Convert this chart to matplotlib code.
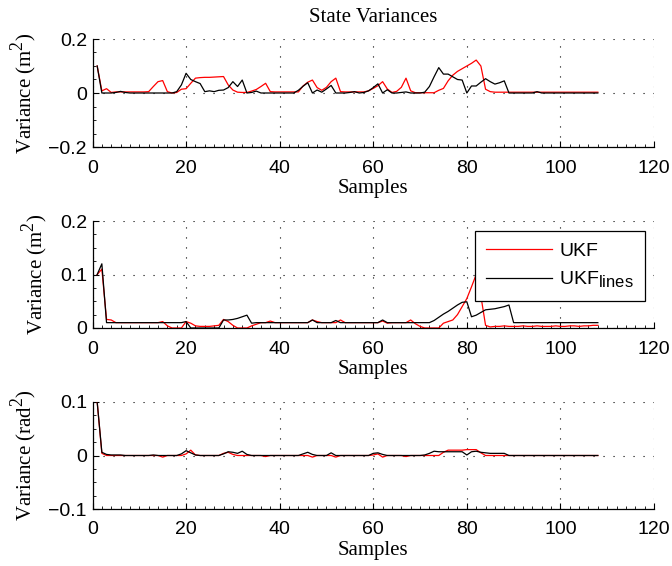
import matplotlib
matplotlib.use("Agg")
import matplotlib.pyplot as plt
from matplotlib.ticker import MultipleLocator

try:
    # larger sub/superscripts than the mathtext default
    import matplotlib._mathtext as _mt
    _mt.SHRINK_FACTOR = 0.85
except Exception:
    pass

# ---- data -------------------------------------------------------------
samples = list(range(1, 109))

# position variance (x), UKF and line-based UKF
var1_ukf = [
    0.100, 0.008, 0.016, 0.002, 0.004, 0.004, 0.004, 0.004, 0.004, 0.004,
    0.004, 0.005, 0.024, 0.042, 0.046, 0.005, 0.000, 0.002, 0.014, 0.016,
    0.036, 0.055, 0.057, 0.058, 0.058, 0.059, 0.060, 0.061, 0.030, 0.011,
    0.003, 0.002, 0.002, 0.007, 0.013, 0.024, 0.036, 0.005, 0.004, 0.004,
    0.004, 0.004, 0.004, 0.004, 0.026, 0.040, 0.048, 0.020, 0.010, 0.021,
    0.042, 0.055, 0.005, 0.004, 0.004, 0.004, 0.004, 0.004, 0.008, 0.017,
    0.027, 0.042, 0.015, 0.002, 0.006, 0.021, 0.055, 0.008, 0.001, 0.001,
    0.001, 0.001, 0.001, 0.010, 0.017, 0.045, 0.066, 0.080, 0.090, 0.100,
    0.110, 0.122, 0.100, 0.014, 0.005, 0.003, 0.003, 0.003, 0.003, 0.003,
    0.003, 0.003, 0.003, 0.003, 0.003, 0.003, 0.003, 0.003, 0.003, 0.003,
    0.003, 0.003, 0.003, 0.003, 0.003, 0.003, 0.003, 0.003,
]
var1_lines = [
    0.100, 0.000, 0.000, 0.000, 0.002, 0.006, 0.002, 0.000, 0.000, 0.000,
    0.000, 0.000, 0.000, 0.000, 0.000, 0.000, 0.000, 0.005, 0.030, 0.073,
    0.050, 0.042, 0.035, 0.005, 0.008, 0.005, 0.010, 0.011, 0.020, 0.042,
    0.024, 0.048, 0.000, 0.002, 0.007, 0.000, 0.000, 0.000, 0.000, 0.000,
    0.000, 0.000, 0.000, 0.010, 0.025, 0.038, 0.000, 0.011, 0.003, 0.015,
    0.028, 0.000, 0.000, 0.000, 0.002, 0.005, 0.000, 0.002, 0.008, 0.020,
    0.034, 0.000, 0.012, 0.000, 0.000, 0.002, 0.004, 0.000, 0.000, 0.000,
    0.003, 0.024, 0.060, 0.094, 0.070, 0.070, 0.060, 0.050, 0.048, 0.000,
    0.026, 0.026, 0.040, 0.053, 0.042, 0.033, 0.038, 0.045, 0.000, 0.000,
    0.000, 0.000, 0.000, 0.000, 0.005, 0.000, 0.000, 0.000, 0.000, 0.000,
    0.000, 0.000, 0.000, 0.000, 0.000, 0.000, 0.000, 0.000,
]

# position variance (y)
var2_ukf = [
    0.100, 0.110, 0.016, 0.015, 0.010, 0.010, 0.010, 0.010, 0.010, 0.010,
    0.010, 0.010, 0.010, 0.010, 0.012, 0.004, 0.000, 0.000, 0.000, 0.012,
    0.009, 0.004, 0.003, 0.003, 0.003, 0.004, 0.005, 0.016, 0.012, 0.005,
    0.000, 0.000, 0.000, 0.004, 0.007, 0.010, 0.010, 0.013, 0.010, 0.010,
    0.010, 0.010, 0.010, 0.010, 0.010, 0.010, 0.015, 0.012, 0.010, 0.010,
    0.010, 0.010, 0.015, 0.010, 0.010, 0.010, 0.010, 0.010, 0.010, 0.010,
    0.010, 0.013, 0.009, 0.010, 0.010, 0.010, 0.010, 0.015, 0.008, 0.003,
    0.000, 0.000, 0.000, 0.000, 0.009, 0.012, 0.015, 0.025, 0.040, 0.055,
    0.077, 0.100, 0.060, 0.005, 0.002, 0.003, 0.003, 0.004, 0.003, 0.003,
    0.003, 0.004, 0.003, 0.003, 0.004, 0.003, 0.003, 0.003, 0.004, 0.003,
    0.003, 0.004, 0.004, 0.003, 0.004, 0.004, 0.005, 0.005,
]
var2_lines = [
    0.100, 0.120, 0.010, 0.010, 0.010, 0.010, 0.010, 0.010, 0.010, 0.010,
    0.010, 0.010, 0.010, 0.010, 0.010, 0.010, 0.010, 0.010, 0.010, 0.012,
    0.000, 0.000, 0.000, 0.000, 0.000, 0.000, 0.000, 0.015, 0.015, 0.016,
    0.018, 0.021, 0.024, 0.009, 0.010, 0.010, 0.010, 0.010, 0.010, 0.010,
    0.010, 0.010, 0.010, 0.010, 0.010, 0.010, 0.015, 0.010, 0.010, 0.010,
    0.010, 0.014, 0.010, 0.010, 0.010, 0.010, 0.010, 0.010, 0.010, 0.010,
    0.010, 0.015, 0.010, 0.010, 0.010, 0.010, 0.010, 0.010, 0.010, 0.010,
    0.010, 0.010, 0.014, 0.020, 0.026, 0.031, 0.037, 0.043, 0.048, 0.049,
    0.021, 0.024, 0.029, 0.034, 0.035, 0.036, 0.038, 0.040, 0.043, 0.010,
    0.010, 0.010, 0.010, 0.010, 0.010, 0.010, 0.010, 0.010, 0.010, 0.010,
    0.010, 0.010, 0.010, 0.010, 0.010, 0.010, 0.010, 0.010,
]

# heading variance
var3_ukf = [
    0.100, 0.004, 0.000, 0.000, 0.000, 0.000, 0.000, 0.000, 0.000, 0.000,
    0.000, 0.000, 0.000, 0.000, -0.003, 0.000, 0.000, 0.000, 0.000, 0.003,
    0.010, 0.001, 0.000, 0.000, 0.000, 0.000, 0.000, 0.004, 0.006, 0.002,
    0.000, 0.000, 0.000, 0.000, 0.000, 0.000, -0.002, 0.000, 0.000, 0.000,
    0.000, 0.000, 0.000, 0.000, 0.000, 0.000, -0.003, 0.000, 0.000, 0.000,
    0.000, -0.003, 0.000, 0.000, 0.000, 0.000, 0.000, 0.000, 0.000, 0.001,
    0.003, -0.003, 0.000, 0.000, 0.000, 0.000, -0.002, 0.000, 0.000, 0.000,
    0.000, 0.000, 0.000, 0.000, 0.006, 0.010, 0.010, 0.010, 0.010, 0.011,
    0.011, 0.011, 0.005, 0.000, 0.000, 0.000, 0.000, 0.000, 0.000, 0.000,
    0.000, 0.000, 0.000, 0.000, 0.000, 0.000, 0.000, 0.000, 0.000, 0.000,
    0.000, 0.000, 0.000, 0.000, 0.000, 0.000, 0.000, 0.000,
]
var3_lines = [
    0.100, 0.006, 0.002, 0.001, 0.001, 0.001, 0.000, 0.000, 0.000, 0.000,
    0.000, 0.000, 0.001, 0.000, 0.000, 0.000, 0.000, 0.000, 0.003, 0.009,
    0.005, 0.001, 0.000, 0.000, 0.000, 0.000, 0.000, 0.003, 0.007, 0.006,
    0.004, 0.008, 0.002, 0.000, 0.000, 0.000, 0.000, 0.000, 0.000, 0.000,
    0.000, 0.000, 0.000, 0.000, 0.003, 0.006, 0.002, 0.000, 0.000, 0.000,
    0.005, 0.000, 0.000, 0.000, 0.000, 0.000, 0.000, 0.000, 0.000, 0.004,
    0.005, 0.002, 0.000, 0.000, 0.000, 0.000, 0.000, 0.000, 0.000, 0.000,
    0.001, 0.004, 0.008, 0.007, 0.007, 0.007, 0.007, 0.007, 0.007, 0.001,
    0.007, 0.008, 0.006, 0.005, 0.004, 0.004, 0.004, 0.004, 0.000, 0.000,
    0.000, 0.000, 0.000, 0.000, 0.000, 0.000, 0.000, 0.000, 0.000, 0.000,
    0.000, 0.000, 0.000, 0.000, 0.000, 0.000, 0.000, 0.000,
]

x_ticks = [0, 20, 40, 60, 80, 100, 120]
y_ticks1 = [-0.2, 0.0, 0.2]
y_labels1 = ["\u22120.2", "0", "0.2"]
y_ticks2 = [0.0, 0.1, 0.2]
y_labels2 = ["0", "0.1", "0.2"]
y_ticks3 = [-0.1, 0.0, 0.1]
y_labels3 = ["\u22120.1", "0", "0.1"]

series_names = ["UKF", "UKF$_{\\mathregular{lines}}$"]
title_text = "State Variances"
x_label = "Samples"
y_label_m = "Variance (m$^{\\mathregular{2}}$)"
y_label_rad = "Variance (rad$^{\\mathregular{2}}$)"

# ---- styling ----------------------------------------------------------
plt.rcParams["lines.scale_dashes"] = False
SANS = "Liberation Sans"
SERIF = "Liberation Serif"

fig = plt.figure(figsize=(6.72, 5.66), dpi=100)

W, H = 672.0, 566.0
left_px, right_px = 92.5, 654.0
panel_px = [(39.0, 147.0), (221.0, 328.0), (402.0, 509.0)]

panels = [
    (var1_ukf, var1_lines, (-0.2, 0.2), y_ticks1, y_labels1, y_label_m),
    (var2_ukf, var2_lines, (0.0, 0.2), y_ticks2, y_labels2, y_label_m),
    (var3_ukf, var3_lines, (-0.1, 0.1), y_ticks3, y_labels3, y_label_rad),
]

axes = []
for (top, bot), (ukf, lines, ylim, yt, ytl, ylab) in zip(panel_px, panels):
    ax = fig.add_axes([left_px / W, 1 - bot / H, (right_px - left_px) / W, (bot - top) / H])
    ax.plot(samples, ukf, color="#ff0000", lw=0.9, label=series_names[0])
    ax.plot(samples, lines, color="#000000", lw=0.9, label=series_names[1])
    ax.set_xlim(0, 120)
    ax.set_ylim(*ylim)
    ax.set_xticks(x_ticks)
    ax.set_xticklabels([str(t) for t in x_ticks])
    ax.set_yticks(yt)
    ax.set_yticklabels(ytl)
    ax.xaxis.set_minor_locator(MultipleLocator(2))
    ax.yaxis.set_minor_locator(MultipleLocator((ylim[1] - ylim[0]) / 8))
    for side in ("top", "right"):
        ax.spines[side].set_visible(False)
    for side in ("left", "bottom"):
        ax.spines[side].set_linewidth(0.9)
    ax.grid(True, which="major", color="#000000", linestyle=(0, (0.8, 6.4)), linewidth=0.8)
    ax.tick_params(axis="both", which="major", direction="in", length=4, width=0.8)
    ax.tick_params(axis="both", which="minor", direction="in", length=2, width=0.6)
    ax.tick_params(axis="x", which="major", pad=9)
    ax.tick_params(axis="y", which="major", pad=4)
    for lab in ax.get_xticklabels() + ax.get_yticklabels():
        lab.set_fontfamily(SANS)
        lab.set_fontsize(14)
    ax.set_xlabel(x_label, fontfamily=SERIF, fontsize=15, labelpad=2)
    ax.set_ylabel(ylab, fontfamily=SERIF, fontsize=15, labelpad=7)
    axes.append(ax)

axes[0].set_title(title_text, fontfamily=SERIF, fontsize=15, pad=12)

leg = axes[1].legend(
    loc="upper right", bbox_to_anchor=(0.984, 0.907), borderaxespad=0,
    prop={"family": SANS, "size": 14}, frameon=True, fancybox=False,
    framealpha=1, edgecolor="#000000", handlelength=3.4, handletextpad=0.35,
    labelspacing=0.5, borderpad=0.58,
)
leg.get_frame().set_linewidth(0.9)

fig.savefig("out.png", dpi=100)
